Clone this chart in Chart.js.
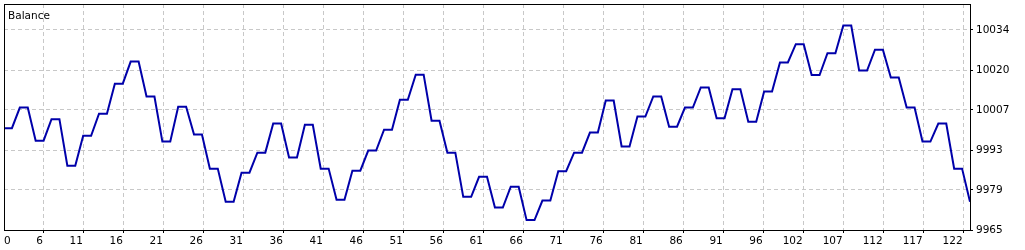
<!DOCTYPE html>
<html lang="en">
<head>
    <meta charset="UTF-8">
    <title>Balance</title>
    <script src="https://cdn.jsdelivr.net/npm/chart.js"></script>
    <style>
        html, body {
            margin: 0;
            padding: 0;
            background-color: #ffffff;
        }

        .chart-box {
            width: 1025px;
            height: 250px;
        }
    </style>
</head>
<body>

    <div class="chart-box">
        <canvas id="balanceChart"></canvas>
    </div>

    <script>
        // Balance after each trade
        const balance = [
            10000.2, 10000.2, 10007.3, 10007.3, 9995.9, 9995.9, 10003.3, 10003.3,
            9987.3, 9987.3, 9997.6, 9997.6, 10005.2, 10005.2, 10015.5, 10015.5,
            10023.1, 10023.1, 10011.1, 10011.1, 9995.6, 9995.6, 10007.6, 10007.6,
            9998.0, 9998.0, 9986.3, 9986.3, 9974.9, 9974.9, 9984.9, 9984.9,
            9991.8, 9991.8, 10001.8, 10001.8, 9990.1, 9990.1, 10001.4, 10001.4,
            9986.3, 9986.3, 9975.6, 9975.6, 9985.6, 9985.6, 9992.5, 9992.5,
            9999.7, 9999.7, 10010.0, 10010.0, 10018.6, 10018.6, 10002.8, 10002.8,
            9991.8, 9991.8, 9976.6, 9976.6, 9983.5, 9983.5, 9972.9, 9972.9,
            9980.1, 9980.1, 9968.6, 9968.6, 9975.3, 9975.3, 9985.4, 9985.4,
            9991.8, 9991.8, 9998.7, 9998.7, 10009.7, 10009.7, 9993.9, 9993.9,
            10004.2, 10004.2, 10011.1, 10011.1, 10000.7, 10000.7, 10007.3, 10007.3,
            10014.2, 10014.2, 10003.6, 10003.6, 10013.6, 10013.6, 10002.4, 10002.4,
            10012.8, 10012.8, 10022.8, 10022.8, 10029.1, 10029.1, 10018.5, 10018.5,
            10026.0, 10026.0, 10035.5, 10035.5, 10020.0, 10020.0, 10027.2, 10027.2,
            10017.6, 10017.6, 10007.3, 10007.3, 9995.6, 9995.6, 10001.8, 10001.8,
            9986.3, 9986.3, 9974.9
        ];

        const xTickLabels = ['0', '6', '11', '16', '21', '26', '31', '36', '41', '46', '51', '56', '61',
                             '66', '71', '76', '81', '86', '91', '96', '102', '107', '112', '117', '122'];
        const xGridStep = 5.05;     // trades between vertical grid lines
        const zeroLabelAt = 0.97;   // "0" sits just inside the left edge

        const yTickValues = [9965.2, 9979.0, 9992.7, 10006.5, 10020.2, 10034.0];
        const yTickLabels = ['9965', '9979', '9993', '10007', '10020', '10034'];
        const yMin = 9965.2;
        const yMax = 10042.9;

        const axisFont = { family: 'DejaVu Sans', size: 10.5 };
        const gridGrey = '#c8c8c8';

        // Frame round the plot and the series name in the corner
        const framePlugin = {
            id: 'frame',
            afterDraw(chart) {
                const { ctx, chartArea: a } = chart;
                ctx.save();
                ctx.strokeStyle = '#000000';
                ctx.lineWidth = 1;
                ctx.strokeRect(a.left + 0.5, a.top + 0.5, a.right - a.left, a.bottom - a.top);
                ctx.fillStyle = '#000000';
                ctx.font = '10.5px "DejaVu Sans"';
                ctx.textBaseline = 'alphabetic';
                ctx.fillText(chart.data.datasets[0].label, a.left + 4, a.top + 15);
                ctx.restore();
            }
        };

        // no extra room for labels overhanging the plot ends
        function noOverhang(axis) {
            axis.paddingTop = 0;
            axis.paddingBottom = 0;
            axis.paddingLeft = 0;
            axis.paddingRight = 0;
        }

        const ctx = document.getElementById('balanceChart').getContext('2d');

        new Chart(ctx, {
            type: 'line',
            data: {
                datasets: [{
                    label: 'Balance',
                    data: balance.map((v, i) => ({ x: i, y: v })),
                    borderColor: '#0000aa',
                    borderWidth: 2,
                    pointRadius: 0,
                    tension: 0,
                    fill: false
                }]
            },
            options: {
                responsive: true,
                maintainAspectRatio: false,
                animation: false,
                layout: { padding: { left: 4, top: 4, right: 0, bottom: 0 } },
                scales: {
                    x: {
                        type: 'linear',
                        min: 0,
                        max: balance.length - 1,
                        afterBuildTicks: axis => {
                            axis.ticks = xTickLabels.map((t, k) => ({ value: k === 0 ? zeroLabelAt : k * xGridStep }));
                        },
                        afterFit: axis => { axis.height = 20; noOverhang(axis); },
                        grid: {
                            color: c => c.index === 0 ? 'rgba(0,0,0,0)' : gridGrey,
                            tickColor: c => c.index === 0 ? 'rgba(0,0,0,0)' : '#000000',
                            tickLength: 3,
                            lineWidth: 1
                        },
                        border: { color: '#000000', dash: [4, 3], z: 1 },
                        ticks: {
                            autoSkip: false,
                            maxRotation: 0,
                            align: 'end',
                            labelOffset: -1,
                            padding: 2,
                            color: '#000000',
                            font: axisFont,
                            callback: (value, index) => xTickLabels[index]
                        }
                    },
                    y: {
                        position: 'right',
                        min: yMin,
                        max: yMax,
                        afterBuildTicks: axis => {
                            axis.ticks = yTickValues.map(v => ({ value: v }));
                        },
                        afterFit: axis => { axis.width = 55; noOverhang(axis); },
                        grid: {
                            color: gridGrey,
                            tickColor: '#000000',
                            tickLength: 3,
                            lineWidth: 1
                        },
                        border: { color: '#000000', dash: [4, 3], z: 1 },
                        ticks: {
                            autoSkip: false,
                            padding: 3,
                            color: '#000000',
                            font: axisFont,
                            callback: (value, index) => yTickLabels[index]
                        }
                    }
                },
                plugins: {
                    legend: { display: false },
                    tooltip: { enabled: false }
                }
            },
            plugins: [framePlugin]
        });
    </script>
</body>
</html>
